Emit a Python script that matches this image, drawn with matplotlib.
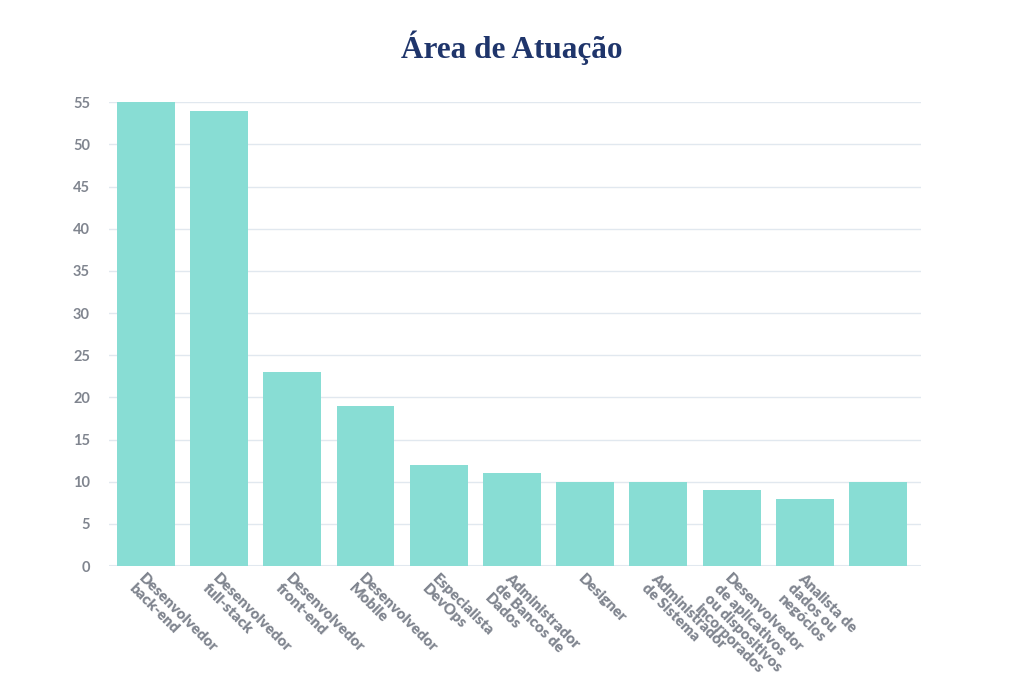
import matplotlib.pyplot as plt

# Área de Atuação - bar chart
categorias = [
    "Desenvolvedor\nback-end",
    "Desenvolvedor\nfull-stack",
    "Desenvolvedor\nfront-end",
    "Desenvolvedor\nMobile",
    "Especialista\nDevOps",
    "Administrador\nde Bancos de\nDados",
    "Designer",
    "Administrador\nde Sistema",
    "Desenvolvedor\nde aplicativos\nou dispositivos\nincorporados",
    "Analista de\ndados ou\nnegócios",
    "",
]
valores = [55, 54, 23, 19, 12, 11, 10, 10, 9, 8, 10]
yticks = [0, 5, 10, 15, 20, 25, 30, 35, 40, 45, 50, 55]

fig = plt.figure(figsize=(10.24, 6.82), dpi=100)
ax = fig.add_axes([0.1068, 0.170, 0.7926, 0.680])

pos = list(range(len(valores)))
ax.bar(pos, valores, width=0.79, color="#88ddd4", zorder=2)

ax.set_xlim(-0.5, len(valores) - 0.413)
ax.set_ylim(0, 55)
ax.set_yticks(yticks)
ax.yaxis.grid(True, color="#e1e8ef", linewidth=1, zorder=0)
ax.tick_params(axis="both", length=0)
for s in ax.spines.values():
    s.set_visible(False)
ax.axhline(0, color="#e1e8ef", linewidth=1.5, zorder=1)

for lbl in ax.get_yticklabels():
    lbl.set_fontfamily("Lato")
    lbl.set_fontweight("bold")
    lbl.set_fontsize(10.5)
    lbl.set_color("#80858f")
ax.tick_params(axis="y", pad=14)

ax.set_xticks(pos)
ax.set_xticklabels(categorias, rotation=-45, ha="left", va="top",
                   rotation_mode="anchor", fontfamily="Lato", fontweight="heavy",
                   fontsize=11, color="#80858f", linespacing=1.1)
ax.tick_params(axis="x", pad=4)

fig.text(0.5, 0.930, "Área de Atuação", ha="center", va="center",
         fontfamily="Liberation Serif", fontweight="bold", fontsize=22.5,
         color="#1f356b")

plt.savefig("out.png", dpi=100)
